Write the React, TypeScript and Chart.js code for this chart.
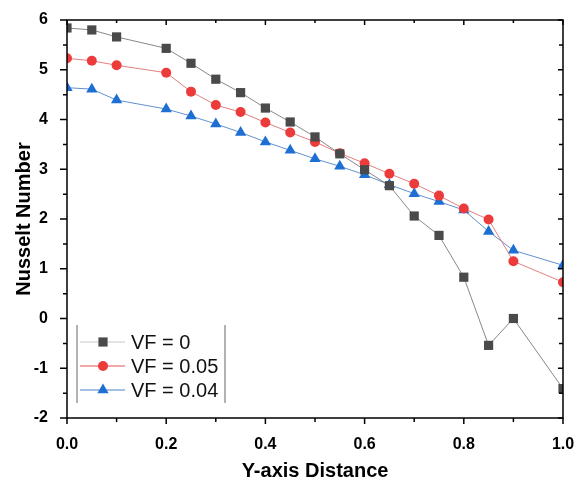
import React, { useEffect, useRef } from "react";
import { Chart, registerables } from "chart.js";
import { drawPoint } from "chart.js/helpers";

Chart.register(...registerables);

const xValues = [0, 0.05, 0.1, 0.2, 0.25, 0.3, 0.35, 0.4, 0.45, 0.5, 0.55, 0.6, 0.65, 0.7, 0.75, 0.8, 0.85, 0.9, 1.0];
const vf0 = [5.84, 5.8, 5.66, 5.43, 5.13, 4.81, 4.54, 4.23, 3.95, 3.65, 3.31, 2.99, 2.67, 2.06, 1.67, 0.83, -0.54, 0.0, -1.41];
const vf005 = [5.23, 5.18, 5.09, 4.94, 4.56, 4.29, 4.15, 3.94, 3.74, 3.55, 3.32, 3.12, 2.91, 2.71, 2.47, 2.21, 1.99, 1.15, 0.73];
const vf004 = [4.64, 4.61, 4.39, 4.21, 4.07, 3.91, 3.74, 3.55, 3.38, 3.21, 3.06, 2.89, 2.69, 2.51, 2.35, 2.18, 1.75, 1.37, 1.07];
const seriesLabels = ["VF = 0", "VF = 0.05", "VF = 0.04"];

const FONT = "'Liberation Sans', Arial, sans-serif";

const toPoints = (ys: number[]) => ys.map((y, i) => ({ x: xValues[i], y }));

const frameTicksPlugin = {
  id: "frameTicks",
  afterDraw(chart: any) {
    const ctx = chart.ctx;
    const { left, right, top, bottom } = chart.chartArea;
    const xs = chart.scales.x;
    const ys = chart.scales.y;
    ctx.save();
    ctx.strokeStyle = "#000";
    ctx.lineWidth = 1.5;
    ctx.strokeRect(left, top, right - left, bottom - top);
    ctx.lineWidth = 1.5;
    xs.ticks.forEach((t: any, i: number) => {
      const px = xs.getPixelForValue(t.value);
      const major = i % 2 === 0;
      ctx.beginPath();
      ctx.moveTo(px, bottom);
      ctx.lineTo(px, bottom + (major ? 6 : 4));
      ctx.moveTo(px, top);
      ctx.lineTo(px, top + (major ? 5 : 3));
      ctx.stroke();
    });
    ys.ticks.forEach((t: any, i: number) => {
      const py = ys.getPixelForValue(t.value);
      const major = i % 2 === 0;
      ctx.beginPath();
      ctx.moveTo(left, py);
      ctx.lineTo(left - (major ? 7 : 4), py);
      ctx.moveTo(right, py);
      ctx.lineTo(right - (major ? 5 : 4), py);
      ctx.stroke();
    });
    ctx.restore();
  },
};

const legendPlugin = {
  id: "insideLegend",
  afterDraw(chart: any) {
    const ctx = chart.ctx;
    const { left, bottom } = chart.chartArea;
    ctx.save();
    const boxL = left + 10;
    const boxR = left + 158;
    const boxT = bottom - 93;
    const boxB = bottom - 15;
    ctx.strokeStyle = "#666";
    ctx.lineWidth = 1;
    ctx.beginPath();
    ctx.moveTo(boxL, boxT);
    ctx.lineTo(boxL, boxB);
    ctx.moveTo(boxR, boxT);
    ctx.lineTo(boxR, boxB);
    ctx.stroke();
    const rowY = [bottom - 76, bottom - 52, bottom - 28];
    chart.data.datasets.forEach((ds: any, i: number) => {
      const y = rowY[i];
      ctx.strokeStyle = ds.legendLineColor;
      ctx.lineWidth = 1;
      ctx.beginPath();
      ctx.moveTo(boxL + 3, y);
      ctx.lineTo(boxL + 48, y);
      ctx.stroke();
      ctx.fillStyle = ds.pointBackgroundColor;
      ctx.strokeStyle = ds.pointBackgroundColor;
      ctx.lineWidth = 0.01;
      const cx = boxL + 26;
      drawPoint(ctx, { pointStyle: ds.pointStyle, radius: ds.pointRadius, rotation: 0, borderWidth: 0 } as any, cx, y);
      ctx.fillStyle = "#111";
      ctx.font = `20px ${FONT}`;
      ctx.textAlign = "left";
      ctx.textBaseline = "middle";
      ctx.fillText(ds.label, boxL + 54, y + 1);
    });
    ctx.restore();
  },
};

export default function App() {
  const canvasRef = useRef<HTMLCanvasElement | null>(null);

  useEffect(() => {
    if (!canvasRef.current) return;
    const chart = new Chart(canvasRef.current, {
      type: "line",
      data: {
        datasets: [
          {
            label: seriesLabels[0],
            data: toPoints(vf0),
            borderColor: "#7a7a7a",
            borderWidth: 0.9,
            pointStyle: "rect",
            pointRadius: 6.5,
            pointBackgroundColor: "#4a4a4a",
            pointBorderWidth: 0,
            legendLineColor: "#c8c8c8",
            clip: 0,
          } as any,
          {
            label: seriesLabels[1],
            data: toPoints(vf005),
            borderColor: "#e07070",
            borderWidth: 0.9,
            pointStyle: "circle",
            pointRadius: 5,
            pointBackgroundColor: "#ec3b3b",
            pointBorderWidth: 0,
            legendLineColor: "#e05050",
            clip: 0,
          } as any,
          {
            label: seriesLabels[2],
            data: toPoints(vf004),
            borderColor: "#5085c8",
            borderWidth: 0.9,
            pointStyle: "triangle",
            pointRadius: 6.5,
            pointBackgroundColor: "#1e6fd4",
            pointBorderWidth: 0,
            legendLineColor: "#4a80c8",
            clip: 0,
          } as any,
        ],
      },
      options: {
        animation: false,
        responsive: true,
        maintainAspectRatio: false,
        layout: { padding: { top: 20, right: 0, left: 0, bottom: 0 } },
        plugins: { legend: { display: false }, tooltip: { enabled: false } },
        scales: {
          x: {
            type: "linear",
            min: 0,
            max: 1,
            grid: { display: false },
            border: { display: false },
            ticks: {
              stepSize: 0.1,
              autoSkip: false,
              maxRotation: 0,
              padding: 9,
              color: "#000",
              font: { family: FONT, size: 16, weight: "bold" },
              callback: (v: any, i: number) => (i % 2 === 0 ? Number(v).toFixed(1) : ""),
            },
            title: {
              display: true,
              text: "Y-axis Distance",
              color: "#000",
              font: { family: FONT, size: 20, weight: "bold" },
              padding: { top: 0, bottom: 1 },
            },
            afterFit: (s: any) => {
              s.height = 66;
              s.paddingLeft = 0;
              s.paddingRight = 13;
            },
          },
          y: {
            type: "linear",
            min: -2,
            max: 6,
            grid: { display: false },
            border: { display: false },
            ticks: {
              stepSize: 0.5,
              autoSkip: false,
              padding: 11,
              color: "#000",
              font: { family: FONT, size: 16, weight: "bold" },
              callback: (v: any) => {
                const n = Number(v);
                return Math.abs(n - Math.round(n)) < 1e-6 ? String(Math.round(n)) : "";
              },
            },
            title: {
              display: true,
              text: "Nusselt Number",
              color: "#000",
              font: { family: FONT, size: 20, weight: "bold" },
              padding: { top: 12, bottom: 0 },
            },
            afterFit: (s: any) => {
              s.width = 67;
              s.paddingTop = 0;
              s.paddingBottom = 0;
            },
          },
        },
      } as any,
      plugins: [frameTicksPlugin, legendPlugin],
    });
    return () => chart.destroy();
  }, []);

  return (
    <div style={{ position: "absolute", left: 0, top: 0, width: 576, height: 484, background: "#fff" }}>
      <canvas ref={canvasRef} />
    </div>
  );
}
